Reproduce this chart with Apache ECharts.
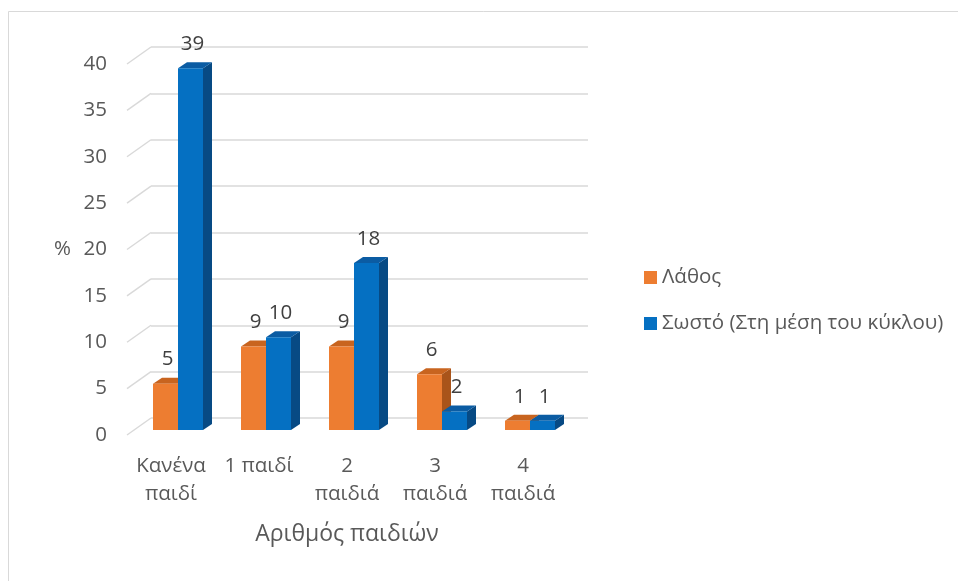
<!DOCTYPE html>
<html>
<head>
<meta charset="utf-8">
<script src="https://cdn.jsdelivr.net/npm/echarts@6/dist/echarts.min.js"></script>
<style>
  html, body { margin: 0; padding: 0; background: #ffffff; }
  #chart { width: 958px; height: 581px; }
</style>
</head>
<body>
<div id="chart"></div>
<script>
// Category labels (wrapped as shown under the axis)
const categories = ['Κανένα\nπαιδί', '1 παιδί', '2\nπαιδιά', '3\nπαιδιά', '4\nπαιδιά'];
// Percentages per answer type
const wrongValues = [5, 9, 9, 6, 1];
const correctValues = [39, 10, 18, 2, 1];
const seriesNames = ['Λάθος', 'Σωστό (Στη μέση του κύκλου)'];
// Value axis ticks
const yTicks = [0, 5, 10, 15, 20, 25, 30, 35, 40];
const yMin = 0, yMax = 40, yStep = 5;

const FONT = '"Open Sans", "Noto Sans", sans-serif';
const TEXT = '#595959';
const GRID_LINE = '#d9d9d9';
const WALL_DEPTH = [24, -17];   // offset from the front plane to the back wall
const BAR_DEPTH = [9, -6];      // visible thickness of each prism
const BAR_W = 25;

const orangeFaces = { front: '#ED7D31', top: '#C8641F', side: '#A9541A' };
const blueFaces = { front: '#0570C2', top: '#0B5CA3', side: '#074A84' };

// Draws one oblique prism per data item: side, top, front and the value label.
function prism(sideSign, faces) {
  return function (params, api) {
    const i = api.value(0), v = api.value(1);
    const top = api.coord([i, v]);
    const base = api.coord([i, 0]);
    const x0 = sideSign < 0 ? top[0] - BAR_W : top[0];
    const x1 = x0 + BAR_W;
    const dx = BAR_DEPTH[0], dy = BAR_DEPTH[1];
    const yT = top[1], yB = base[1];
    return {
      type: 'group',
      children: [
        { type: 'polygon', shape: { points: [[x1, yB], [x1 + dx, yB + dy], [x1 + dx, yT + dy], [x1, yT]] },
          style: { fill: faces.side } },
        { type: 'polygon', shape: { points: [[x0, yT], [x0 + dx, yT + dy], [x1 + dx, yT + dy], [x1, yT]] },
          style: { fill: faces.top } },
        { type: 'rect', shape: { x: x0, y: yT, width: BAR_W, height: yB - yT },
          style: { fill: faces.front } },
        { type: 'text', x: (x0 + x1) / 2 + 2, y: yT - 24,
          style: { text: String(v), fill: '#404040', font: '20.5px ' + FONT, align: 'center', verticalAlign: 'middle' } }
      ]
    };
  };
}

const chart = echarts.init(document.getElementById('chart'), null, { renderer: 'canvas' });

chart.setOption({
  backgroundColor: '#ffffff',
  animation: false,
  textStyle: { fontFamily: FONT },
  graphic: [
    { type: 'rect', shape: { x: 8.5, y: 11.5, width: 1000, height: 620 },
      style: { fill: 'none', stroke: '#d9d9d9', lineWidth: 1 }, z: 0 }
  ],
  legend: {
    data: seriesNames,
    orient: 'vertical',
    left: 639,
    top: 262,
    itemWidth: 13,
    itemHeight: 13,
    itemGap: 25,
    icon: 'rect',
    selectedMode: false,
    textStyle: { color: TEXT, fontSize: 20.5, fontFamily: FONT }
  },
  grid: [
    { left: 127, top: 64, width: 440, height: 371 },   // front plane
    { left: 134, top: 59, width: 440, height: 371 },   // bar plane
    { left: 151, top: 47, width: 437, height: 371 }    // back wall
  ],
  xAxis: [
    { type: 'category', gridIndex: 0, data: categories,
      axisLine: { show: false }, axisTick: { show: false }, splitLine: { show: false },
      axisLabel: { color: TEXT, fontSize: 20.5, lineHeight: 28, margin: 17, interval: 0, fontFamily: FONT },
      name: 'Αριθμός παιδιών', nameLocation: 'middle', nameGap: 88,
      nameTextStyle: { color: TEXT, fontSize: 23, fontFamily: FONT } },
    { type: 'category', gridIndex: 1, data: categories, show: false },
    { type: 'category', gridIndex: 2, data: categories, show: false }
  ],
  yAxis: [
    { type: 'value', gridIndex: 0, min: yMin, max: yMax, interval: yStep,
      axisLine: { show: false }, axisTick: { show: false }, splitLine: { show: false },
      axisLabel: { color: TEXT, fontSize: 20.5, margin: 20, fontFamily: FONT },
      name: '%', nameLocation: 'middle', nameRotate: 0, nameGap: 56,
      nameTextStyle: { color: TEXT, fontSize: 20.5, fontFamily: FONT } },
    { type: 'value', gridIndex: 1, min: yMin, max: yMax, interval: yStep, show: false },
    { type: 'value', gridIndex: 2, min: yMin, max: yMax, interval: yStep,
      axisLine: { show: false }, axisTick: { show: false }, axisLabel: { show: false },
      splitLine: { show: true, lineStyle: { color: GRID_LINE, width: 1.5 } } }
  ],
  series: [
    { // side-wall diagonals joining the front plane to the back wall
      type: 'custom', xAxisIndex: 0, yAxisIndex: 0, silent: true, z: 1,
      data: yTicks.map(v => [0, v]),
      renderItem: function (params, api) {
        const p = api.coord([0, api.value(1)]);
        const x = params.coordSys.x;
        return { type: 'line',
          shape: { x1: x, y1: p[1], x2: x + WALL_DEPTH[0], y2: p[1] + WALL_DEPTH[1] },
          style: { stroke: GRID_LINE, lineWidth: 1.5 } };
      }
    },
    { name: seriesNames[0], type: 'custom', xAxisIndex: 1, yAxisIndex: 1, z: 3,
      itemStyle: { color: orangeFaces.front },
      data: wrongValues.map((v, i) => [i, v]),
      renderItem: prism(-1, orangeFaces) },
    { name: seriesNames[1], type: 'custom', xAxisIndex: 1, yAxisIndex: 1, z: 4,
      itemStyle: { color: blueFaces.front },
      data: correctValues.map((v, i) => [i, v]),
      renderItem: prism(1, blueFaces) }
  ]
});
</script>
</body>
</html>
